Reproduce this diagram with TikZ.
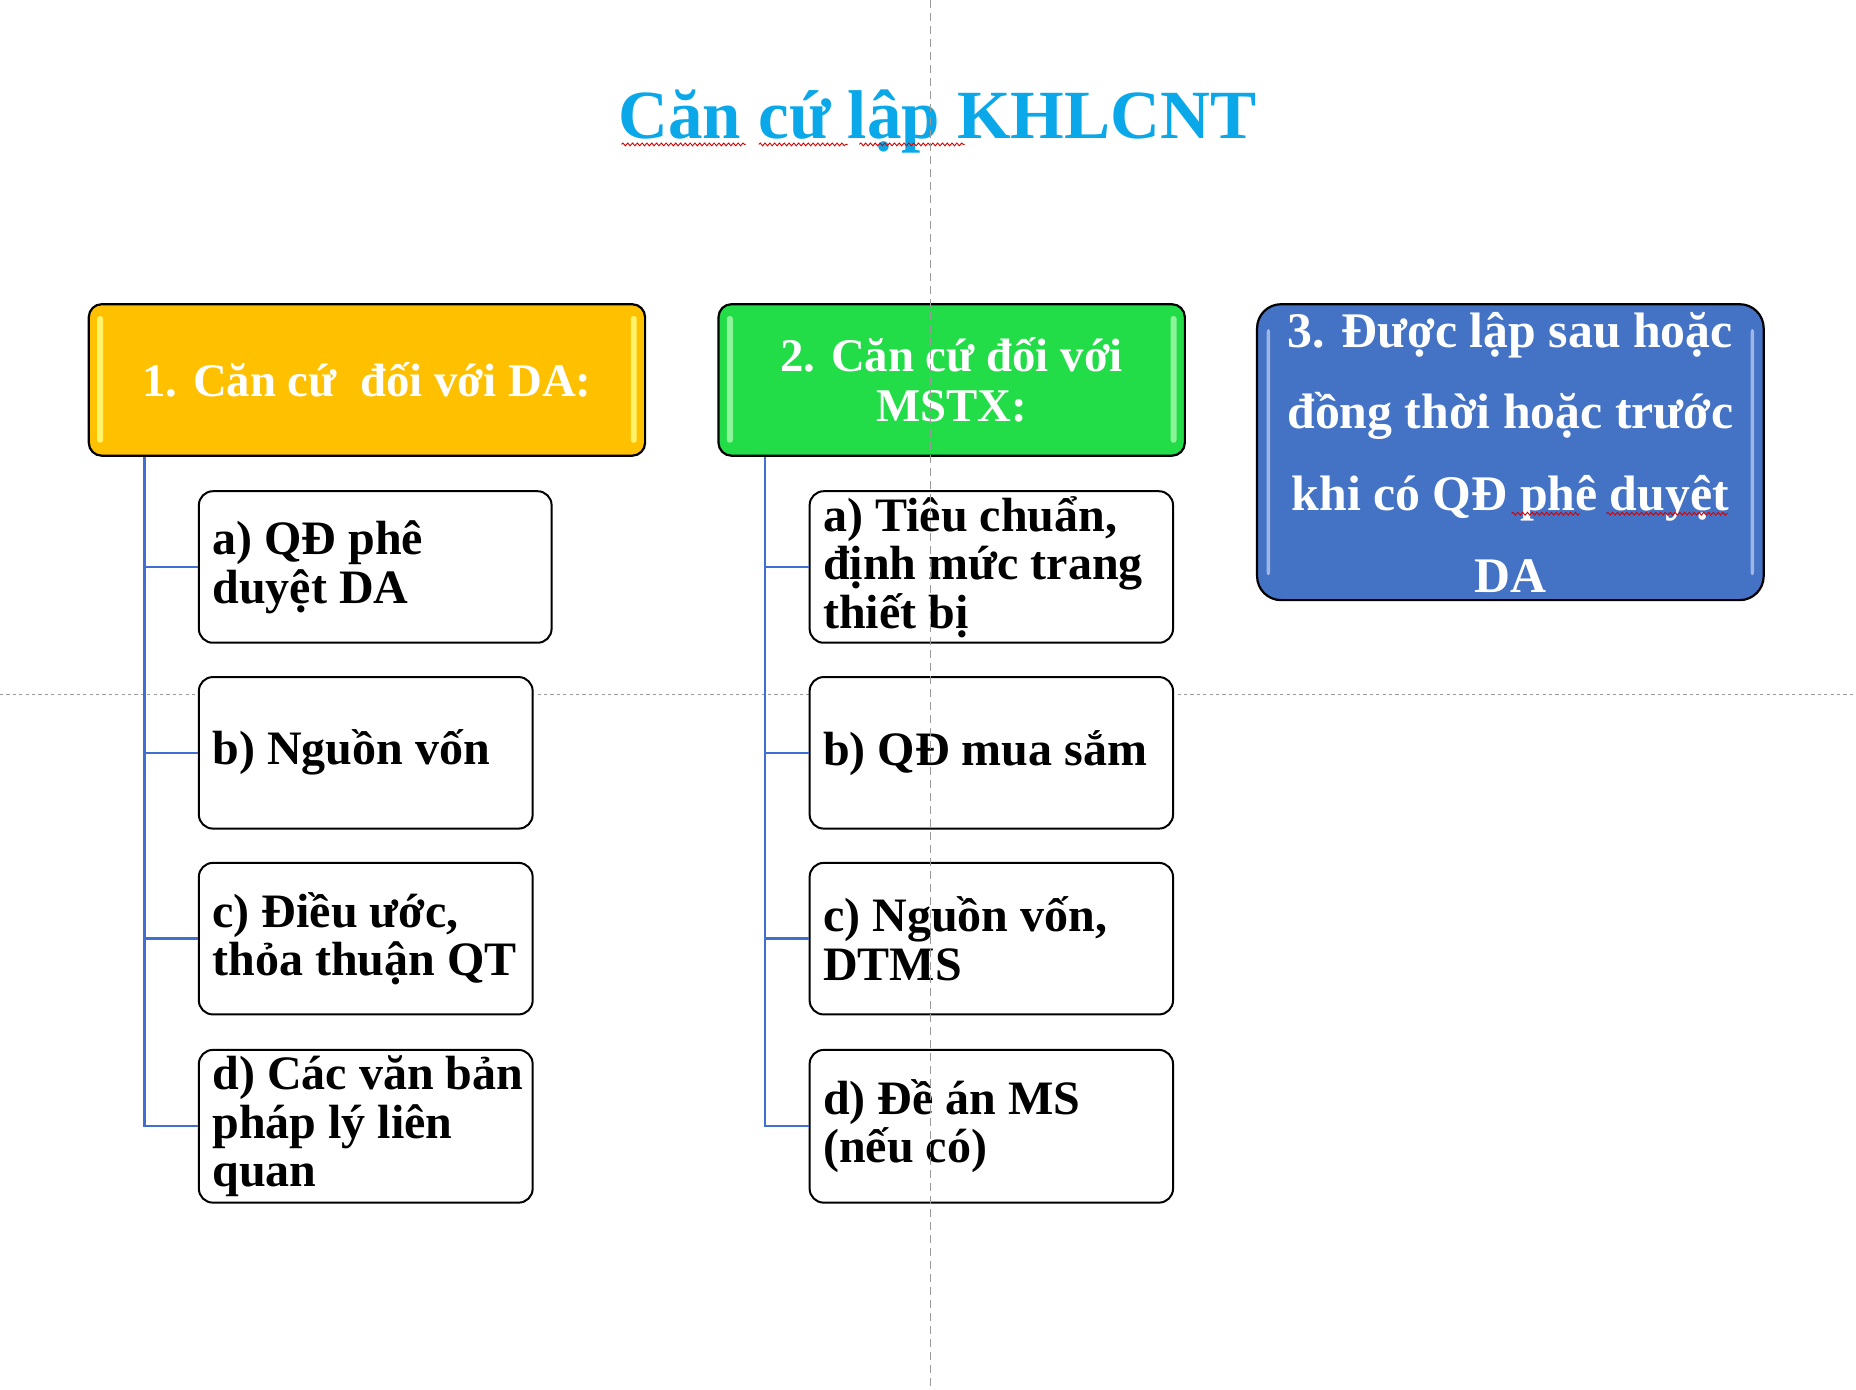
\documentclass[tikz,border=0pt]{standalone}
\usepackage{fontspec}
\setmainfont{Liberation Serif}
\usetikzlibrary{calc,decorations.pathmorphing}
\newcommand{\pxu}{0.5918pt}
\definecolor{titleblue}{HTML}{0AA8E8}
\definecolor{orangefill}{HTML}{FFC000}
\definecolor{orangehl}{HTML}{FFF36A}
\definecolor{greenfill}{HTML}{22DD48}
\definecolor{greenhl}{HTML}{8CF59A}
\definecolor{bluefill}{HTML}{4472C4}
\definecolor{bluehl}{HTML}{9DB6E6}
\definecolor{connblue}{HTML}{3F6FD0}
\definecolor{guidegray}{HTML}{9A9A9A}
\newcommand{\childfont}{\fontsize{24pt}{24.3pt}\selectfont\bfseries}
\newcommand{\headfont}{\fontsize{23.4pt}{24.9pt}\selectfont\bfseries}
\newcommand{\bigheadfont}{\fontsize{24.9pt}{40.8pt}\selectfont\bfseries}
\begin{document}
\begin{tikzpicture}[x=0.5918pt,y=-0.5918pt,
  header/.style={draw=black, line width=1.1pt, rounded corners=6.5pt,
    text=white, align=center, inner sep=0pt},
  childbox/.style={draw=black, line width=1pt, fill=white, rounded corners=7pt,
    inner sep=0pt},
  childtext/.style={anchor=west, align=flush left, inner sep=0pt,
    font=\childfont, text=black},
  conn/.style={draw=connblue, line width=1.2pt},
  hlstrip/.style={rounded corners=1.2pt},
  squig/.style={draw=red!85!black, line width=0.45pt,
    decorate, decoration={snake, amplitude=0.7pt, segment length=2.4pt}},
  guide/.style={draw=guidegray, line width=0.5pt}
]
\useasboundingbox (0,0) rectangle (1568,1173.5);
\fill[white] (0,0) rectangle (1568,1173.5);

% horizontal guide (behind the boxes)
\draw[guide, dash pattern=on 1.6pt off 1.6pt] (0,587) -- (1568,587);

% title
\node[anchor=base, text=titleblue, font=\fontsize{34.5pt}{40pt}\selectfont\bfseries]
  (title) at (792,117) {Căn cứ lập KHLCNT};

% headers
\node[header, fill=orangefill, minimum width=470*\pxu, minimum height=128*\pxu,
  font=\headfont] (h1) at (310,321) {1. Căn cứ\ \ đối với DA:};
\node[header, fill=greenfill, minimum width=394*\pxu, minimum height=128*\pxu,
  font=\headfont] (h2) at (804,321) {2. Căn cứ đối với\\MSTX:};
\node[header, fill=bluefill, rounded corners=12pt, minimum width=428*\pxu,
  minimum height=250*\pxu, font=\bigheadfont] (h3) at (1276,382)
  {3. Được lập sau hoặc\\đồng thời hoặc trước\\khi có QĐ phê duyệt\\DA};

% highlight strips on headers
\foreach \h/\c in {h1/orangehl, h2/greenhl}{
  \fill[\c, hlstrip] ($(\h.north west)+(8,11)$) rectangle ($(\h.south west)+(13,-12)$);
  \fill[\c, hlstrip] ($(\h.north east)+(-13,11)$) rectangle ($(\h.south east)+(-8,-12)$);
}
\fill[bluehl, hlstrip] ($(h3.north west)+(9,22)$) rectangle ($(h3.south west)+(12,-22)$);
\fill[bluehl, hlstrip] ($(h3.north east)+(-12,22)$) rectangle ($(h3.south east)+(-9,-22)$);

% left children
\node[childbox, minimum width=298*\pxu, minimum height=128*\pxu] (la) at (317,479) {};
\node[childbox, minimum width=282*\pxu, minimum height=128*\pxu] (lb) at (309,636) {};
\node[childbox, minimum width=282*\pxu, minimum height=128*\pxu] (lc) at (309,793) {};
\node[childbox, minimum width=282*\pxu, minimum height=129*\pxu] (ld) at (309,951.5) {};
\node[childtext] (lat) at ($(la.west)+(12,0)$) {a) QĐ phê\\duyệt DA};
\node[childtext] (lbt) at ($(lb.west)+(12,0)$) {b) Nguồn vốn};
\node[childtext] (lct) at ($(lc.west)+(12,0)$) {c) Điều ước,\\thỏa thuận QT};
\node[childtext] (ldt) at ($(ld.west)+(12,0)$) {d) Các văn bản\\pháp lý liên\\quan};

% right children
\node[childbox, minimum width=307*\pxu, minimum height=128*\pxu] (ra) at (837.5,479) {};
\node[childbox, minimum width=307*\pxu, minimum height=128*\pxu] (rb) at (837.5,636) {};
\node[childbox, minimum width=307*\pxu, minimum height=128*\pxu] (rc) at (837.5,793) {};
\node[childbox, minimum width=307*\pxu, minimum height=129*\pxu] (rd) at (837.5,951.5) {};
\node[childtext] (rat) at ($(ra.west)+(12,0)$) {a) Tiêu chuẩn,\\định mức trang\\thiết bị};
\node[childtext] (rbt) at ($(rb.west)+(12,0)$) {b) QĐ mua sắm};
\node[childtext] (rct) at ($(rc.west)+(12,0)$) {c) Nguồn vốn,\\DTMS};
\node[childtext] (rdt) at ($(rd.west)+(12,0)$) {d) Đề án MS\\(nếu có)};

% connectors
\coordinate (t1) at ($(h1.south west)+(48,0)$);
\coordinate (t2) at ($(h2.south west)+(40,0)$);
\foreach \c in {la,lb,lc,ld}{ \draw[conn] (t1) |- (\c.west); }
\foreach \c in {ra,rb,rc,rd}{ \draw[conn] (t2) |- (\c.west); }

% spell-check squiggles
\draw[squig] (525,122) -- (630,122);
\draw[squig] (641,122) -- (716,122);
\draw[squig] (726,122) -- (815,122);
\draw[squig] (1277,434) -- (1335,434);
\draw[squig] (1357,434) -- (1460,434);

% vertical guide (on top)
\draw[guide, dash pattern=on 4pt off 2.5pt] (786,0) -- (786,1173.5);
\end{tikzpicture}
\end{document}
